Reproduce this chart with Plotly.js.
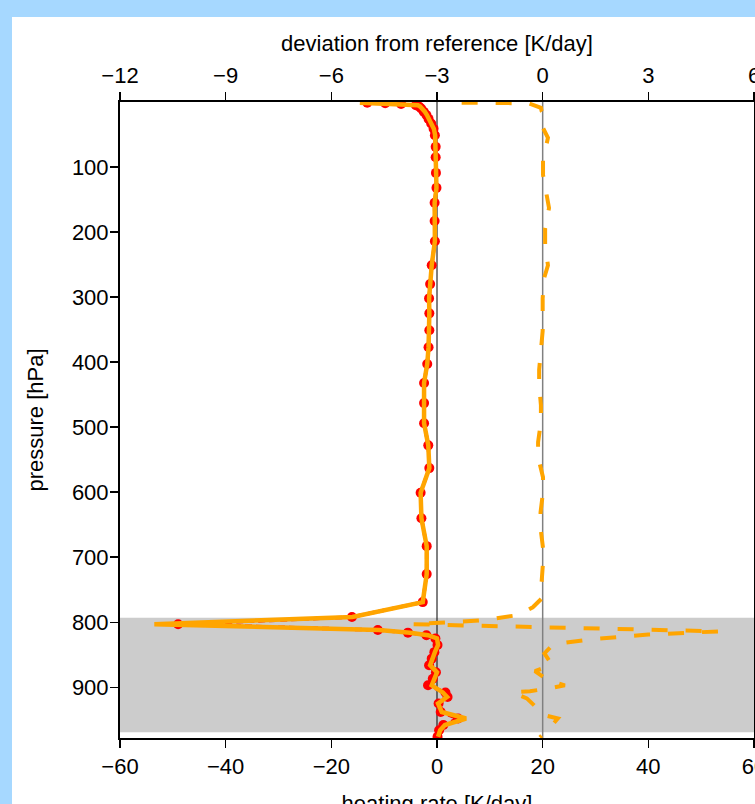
<!DOCTYPE html>
<html>
<head>
<meta charset="utf-8">
<script src="https://cdn.plot.ly/plotly-3.0.1.min.js"></script>
<style>
  html, body { margin:0; padding:0; background: rgb(166,216,255); width:755px; height:804px; overflow:hidden; }
  #panel { position:absolute; left:12px; top:17px; width:743px; height:787px; background:#ffffff; overflow:hidden; }
  #chart { width:743px; height:815px; }
</style>
</head>
<body>
<div id="panel"><div id="chart"></div></div>
<script>
// pressure levels [hPa] of the profiles
const pLev = [1,2,3,5,7,10,15,20,26,33,41,51,
  69,85,109,132,155,183,214,251,280,302,325,351,377,403,432,463,494,528,563,601,640,683,726,769,
  792,803,812,816,820,825,835,846,856,866,877,887,897,908,915,925,938,948,958,966,976];
// heating rate of the reference (red) [K/day]
const hrRef = [-13.2,-9.8,-6.8,-4.0,-3.4,-3.0,-2.5,-2.0,-1.6,-1.1,-0.65,-0.4,
  -0.25,-0.25,-0.2,-0.1,-0.45,-0.45,-0.4,-1.0,-1.3,-1.5,-1.45,-1.45,-1.6,-1.85,-2.45,-2.45,-2.45,-1.65,-1.45,-3.1,-2.95,-1.95,-1.95,-2.7,
  -16.1,-49.0,-11.2,-5.5,-2.0,-0.3,0.1,-0.5,-1.0,-1.5,-0.2,-0.8,-1.7,1.6,2.0,0.3,0.7,4.0,1.2,0.4,0.1];
// heating rate of the model (orange) [K/day]
const hrModel = [-14.6,-10.5,-6.5,-3.6,-3.2,-2.8,-2.3,-1.9,-1.5,-1.0,-0.6,-0.35,
  -0.25,-0.25,-0.2,-0.1,-0.45,-0.45,-0.4,-1.0,-1.3,-1.5,-1.45,-1.45,-1.6,-1.85,-2.45,-2.45,-2.45,-1.65,-1.45,-3.1,-2.95,-1.95,-1.95,-2.7,
  -16.0,-53.5,-11.0,-5.1,-1.7,0.0,0.2,-0.4,-0.9,-1.3,0.0,-0.6,-1.0,1.1,1.9,0.2,0.9,5.5,1.5,0.6,0.2];
// deviation from reference (dashed orange, top axis) [K/day]
const devP = [1,2,9,14,23,40,55,90,112,143,163,194,220,251,271,302,328,352,412,435,
  466,492,523,546,577,600,631,655,686,708,738,755,762,777,789,797,803,814,819,826,
  834,848,866,875,889,897,902,906,908,917,932,942,948,958,977];
const devVal = [-2.3,-0.4,-0.05,-0.03,0.07,0.01,0.15,0.01,0.01,0.11,0.18,0.07,0.07,0.15,0.04,0.0,0.0,0.0,-0.1,-0.1,
  -0.05,-0.05,-0.13,-0.13,0.01,0.01,-0.06,-0.06,0.01,0.01,-0.03,-0.03,0.0,-0.28,-0.7,-1.7,-3.7,5.0,3.0,1.4,
  0.3,0.05,0.27,-0.22,0.15,0.63,0.15,-0.36,-0.85,-0.45,-0.16,-0.02,0.43,0.27,-0.08];
// tick labels
const bottomTicks = [-60,-40,-20,0,20,40,60];
const topTicks = [-12,-9,-6,-3,0,3,6];
const pTicks = [100,200,300,400,500,600,700,800,900];
// shaded layer [hPa]
const shadeTop = 793, shadeBottom = 969;

const FONT = 'Liberation Sans, Arial, Helvetica, sans-serif';
const FS = 22;

const traces = [
  { x: hrRef, y: pLev, type:'scatter', mode:'lines+markers', xaxis:'x', yaxis:'y',
    line:{color:'#FF0000', width:3.5, dash:'7px,4px'},
    marker:{color:'#FF0000', size:10, symbol:'circle'}, showlegend:false },
  { x: hrModel, y: pLev, type:'scatter', mode:'lines+markers', xaxis:'x', yaxis:'y',
    line:{color:'#FFA500', width:4.5},
    marker:{color:'rgba(255,165,0,0)', size:8, symbol:'square-open', line:{color:'rgba(240,160,40,0.85)', width:1}},
    showlegend:false },
  { x: devVal, y: devP, type:'scatter', mode:'lines', xaxis:'x2', yaxis:'y',
    line:{color:'#FFA500', width:4, dash:'16px,18px'}, showlegend:false }
];

const axisFont = {family: FONT, size: FS, color:'#000'};

const layout = {
  width: 743, height: 815,
  margin: {l:108, r:1, t:85, b:94, pad:0},
  paper_bgcolor:'#ffffff', plot_bgcolor:'#ffffff',
  showlegend:false,
  font: {family: FONT, size: FS, color:'#000'},
  xaxis: {
    range:[-60,60], tickvals: bottomTicks, ticks:'outside', ticklen:8, tickwidth:1.5, tickcolor:'#000',
    showline:true, linewidth:2, linecolor:'#000', mirror:true, showgrid:false, zeroline:false,
    tickfont: axisFont, automargin:false, ticklabeloverflow:'allow',
    title:{text:'heating rate [K/day]', font:{family:FONT, size:FS}, standoff:17}
  },
  xaxis2: {
    range:[-12,6], tickvals: topTicks, overlaying:'x', side:'top', anchor:'y',
    ticks:'outside', ticklen:8, tickwidth:1.5, tickcolor:'#000',
    showline:true, linewidth:2, linecolor:'#000', showgrid:false, zeroline:false,
    tickfont: axisFont, automargin:false, ticklabeloverflow:'allow',
    title:{text:'deviation from reference [K/day]', font:{family:FONT, size:FS}, standoff:6}
  },
  yaxis: {
    range:[978,0], tickvals: pTicks, ticks:'outside', ticklen:8, tickwidth:1.5, tickcolor:'#000',
    showline:true, linewidth:2, linecolor:'#000', mirror:true, showgrid:false, zeroline:false,
    tickfont: axisFont, automargin:false, ticklabelstandoff:-3,
    title:{text:'pressure [hPa]', font:{family:FONT, size:FS}, standoff:22}
  },
  shapes: [
    {type:'rect', xref:'paper', yref:'y', x0:0, x1:1, y0:shadeTop, y1:shadeBottom,
     fillcolor:'#CCCCCC', line:{width:0}, layer:'below'},
    {type:'line', xref:'x', yref:'paper', x0:0, x1:0, y0:0, y1:1, line:{color:'#000', width:1}, layer:'below'},
    {type:'line', xref:'x2', yref:'paper', x0:0, x1:0, y0:0, y1:1, line:{color:'#808080', width:1.5}, layer:'below'}
  ]
};

Plotly.newPlot('chart', traces, layout, {displayModeBar:false, staticPlot:true});
</script>
</body>
</html>
